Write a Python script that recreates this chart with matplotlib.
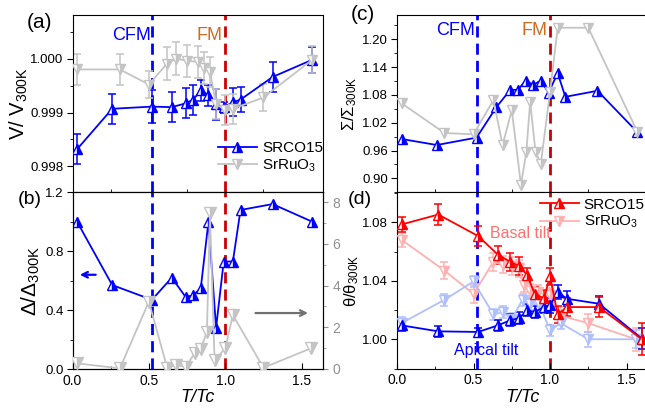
import numpy as np
import matplotlib
matplotlib.use('Agg')
import matplotlib.pyplot as plt
from matplotlib.ticker import MultipleLocator

plt.rcParams['font.family'] = ['Liberation Sans', 'DejaVu Sans']
plt.rcParams['mathtext.default'] = 'regular'

# ---- data ----
# SRCO15 temperatures (T/Tc), panels a-c
t_srco = [0.03, 0.26, 0.52, 0.65, 0.74, 0.79, 0.84, 0.89, 0.94, 0.99, 1.05, 1.10, 1.31, 1.57]

# (a) volume
v_srco = [0.99832, 0.99907, 0.99911, 0.99910, 0.99917, 0.99924, 0.99941, 0.99932,
          0.99915, 0.99910, 0.99919, 0.99924, 0.99966, 0.99998]
v_srco_err = [0.00028, 0.00028, 0.00030, 0.00028, 0.00028, 0.00028, 0.00020, 0.00020,
              0.00028, 0.00010, 0.00026, 0.00023, 0.00027, 0.00024]
t_sro_a = [0.03, 0.31, 0.50, 0.62, 0.68, 0.75, 0.82, 0.86, 0.90, 0.94, 1.00, 1.05, 1.25, 1.57]
v_sro = [0.99980, 0.99980, 0.99952, 0.99991, 1.00000, 0.99996, 0.99994, 0.99983,
         0.99975, 0.99916, 0.99904, 0.99907, 0.99928, 0.99998]
v_sro_err = [0.00028, 0.00028, 0.00025, 0.00030, 0.00030, 0.00030, 0.00030, 0.00030,
             0.00028, 0.00028, 0.00028, 0.00028, 0.00025, 0.00025]

# (b) distortion
d_srco = [1.00, 0.57, 0.47, 0.62, 0.49, 0.50, 0.55, 1.00, 0.28, 0.73, 0.73, 1.08, 1.12, 1.00]
t_sro_b = [0.03, 0.31, 0.50, 0.62, 0.68, 0.74, 0.80, 0.84, 0.88, 0.90, 0.93, 1.00, 1.05, 1.25, 1.56]
d_sro = [0.27, 0.03, 3.23, 0.06, 0.19, 0.11, 0.75, 0.96, 1.79, 7.47, 0.43, 0.99, 2.59, 0.06, 0.99]

# (c) sigma
s_srco = [0.985, 0.972, 0.988, 1.054, 1.091, 1.091, 1.111, 1.102, 1.111, 1.085,
          1.127, 1.076, 1.089, 1.000]
t_sro_c = [0.03, 0.31, 0.50, 0.63, 0.69, 0.75, 0.81, 0.845, 0.87, 0.905, 0.94, 1.00, 1.05, 1.25, 1.57]
s_sro = [1.062, 0.998, 0.995, 1.069, 0.972, 1.047, 0.886, 0.957, 1.065, 0.957, 0.932,
         1.087, 1.225, 1.225, 1.001]

# (d) octahedral tilts
t_srco_d = [0.03, 0.27, 0.53, 0.66, 0.74, 0.80, 0.85, 0.90, 0.96, 1.00, 1.05, 1.11, 1.32, 1.60]
basal_srco = [1.0785, 1.0853, 1.0706, 1.0578, 1.053, 1.050, 1.044, 1.031, 1.028, 1.043,
              1.017, 1.022, 1.022, 1.000]
basal_srco_err = [0.005, 0.007, 0.007, 0.006, 0.006, 0.006, 0.005, 0.005, 0.006, 0.006,
                  0.006, 0.006, 0.007, 0.011]
apical_srco = [1.0095, 1.0054, 1.0050, 1.0095, 1.013, 1.0145, 1.0198, 1.0186, 1.022,
               1.0232, 1.0323, 1.0277, 1.0243, 1.0004]
apical_srco_err = [0.004, 0.004, 0.003, 0.004, 0.004, 0.004, 0.004, 0.004, 0.004, 0.005,
                   0.005, 0.005, 0.005, 0.007]
t_sro_d = [0.03, 0.31, 0.50, 0.63, 0.69, 0.75, 0.80, 0.83, 0.87, 0.92, 1.00, 1.07, 1.25, 1.56]
basal_sro = [1.068, 1.047, 1.031, 1.053, 1.051, 1.050, 1.0485, 1.037, 1.033, 1.032,
             1.030, 1.016, 1.011, 1.000]
basal_sro_err = [0.005, 0.006, 0.006, 0.006, 0.006, 0.006, 0.006, 0.005, 0.005, 0.005,
                 0.005, 0.006, 0.006, 0.008]
t_sro_d2 = [0.03, 0.31, 0.50, 0.63, 0.69, 0.75, 0.82, 0.87, 0.93, 1.00, 1.07, 1.25, 1.56]
apical_sro = [1.011, 1.027, 1.0395, 1.017, 1.0185, 1.014, 1.027, 1.024, 1.024, 1.006,
              1.011, 1.000, 1.000]
apical_sro_err = [0.004, 0.004, 0.004, 0.004, 0.004, 0.004, 0.004, 0.004, 0.004, 0.004,
                  0.004, 0.005, 0.006]

t_cfm = 0.52
t_fm = 1.0

BLUE = '#0000FF'
GRAY = '#C4C4C4'
RED = '#FF0000'
PINK = '#FFB0B0'
LBLUE = '#B0C0FF'
DRED = '#CC0000'

W, H = 645, 409
fig = plt.figure(figsize=(W / 100, H / 100), dpi=100)


def box(l, r, t, b):
    return [l / W, 1 - b / H, (r - l) / W, (b - t) / H]


ax_a = fig.add_axes(box(72.5, 323, 15, 192.3))
ax_b = fig.add_axes(box(72.5, 323, 192.3, 369))
ax_c = fig.add_axes(box(397, 648, 15, 192.3))
ax_d = fig.add_axes(box(397, 648, 192.3, 368.5))


def series(ax, x, y, color, marker, err=None, ms=7.5, lw=1.3, label=None):
    if err is not None:
        ax.errorbar(x, y, yerr=err, fmt='none', ecolor=color,
                    elinewidth=1.1, capsize=3, capthick=1.1, zorder=2)
    ax.plot(x, y, color=color, lw=lw, marker=marker, ms=ms, fillstyle='right',
            markerfacecolor=color, markerfacecoloralt='white',
            markeredgecolor=color, markeredgewidth=1.0, label=label, zorder=3)


for ax in (ax_a, ax_b, ax_c, ax_d):
    ax.set_xlim(0, 1.64)
    ax.xaxis.set_major_locator(MultipleLocator(0.5))
    ax.xaxis.set_minor_locator(MultipleLocator(0.25))
    ax.tick_params(axis='x', which='both', direction='in', labelsize=10)
    ax.tick_params(axis='x', which='major', length=4)
    ax.tick_params(axis='x', which='minor', length=2.5)
    ax.tick_params(axis='y', which='both', direction='out', labelsize=9.5, pad=2.5)
    ax.tick_params(axis='y', which='major', length=4)
    ax.tick_params(axis='y', which='minor', length=2.5)
    ax.axvline(t_cfm, color=BLUE, lw=2, ls=(0, (4, 2.2)), zorder=1)
    ax.axvline(t_fm, color=DRED, lw=2, ls=(0, (4, 2.2)), zorder=1)

# (a)
series(ax_a, t_srco, v_srco, BLUE, '^', v_srco_err, label='SRCO15')
series(ax_a, t_sro_a, v_sro, GRAY, 'v', v_sro_err, label=r'SrRuO$_3$')
ax_a.set_ylim(0.99752, 1.00081)
ax_a.yaxis.set_major_locator(MultipleLocator(0.001))
ax_a.yaxis.set_minor_locator(MultipleLocator(0.0005))
ax_a.yaxis.set_major_formatter(matplotlib.ticker.FormatStrFormatter('%.3f'))
ax_a.tick_params(axis='x', labelbottom=False, direction='out')
ax_a.set_ylabel(r'V/ V$_{300K}$', fontsize=14.5)
ax_a.yaxis.set_label_coords(-0.168, 0.5)
ax_a.legend(loc='lower right', bbox_to_anchor=(1.03, 0.06), frameon=False,
            fontsize=11, handlelength=2.6, handletextpad=0.3, labelspacing=0.15,
            borderpad=0)
ax_a.text(0.512, 1.00043, 'CFM', color=BLUE, fontsize=13, ha='right', va='center')
ax_a.text(0.985, 1.00043, 'FM', color='#D2691E', fontsize=13, ha='right', va='center')

# (b)
series(ax_b, t_srco, d_srco, BLUE, '^')
ax_b.set_ylim(0, 1.2)
ax_b.yaxis.set_major_locator(MultipleLocator(0.4))
ax_b.yaxis.set_minor_locator(MultipleLocator(0.2))
ax_b.yaxis.set_major_formatter(matplotlib.ticker.FormatStrFormatter('%.1f'))
ax_b.set_ylabel(r'$\Delta$/$\Delta_{300K}$', fontsize=15)
ax_b.yaxis.set_label_coords(-0.12, 0.5)
ax_b.set_xlabel('T/Tc', fontsize=13, fontstyle='italic', labelpad=1)
ax_b2 = ax_b.twinx()
series(ax_b2, t_sro_b, d_sro, GRAY, 'v', ms=9)
ax_b2.set_ylim(0, 8.48)
ax_b2.yaxis.set_major_locator(MultipleLocator(2))
ax_b2.yaxis.set_minor_locator(MultipleLocator(1))
ax_b2.tick_params(axis='y', which='both', colors='#909090', labelsize=10, direction='out')
ax_b2.spines['right'].set_color('black')
ax_b.annotate('', xy=(0.03, 0.64), xytext=(0.17, 0.64),
              arrowprops=dict(arrowstyle='->', color=BLUE, lw=1.6))
ax_b.annotate('', xy=(1.56, 0.38), xytext=(1.18, 0.38),
              arrowprops=dict(arrowstyle='->', color='#707070', lw=1.6))

# (c)
series(ax_c, t_srco, s_srco, BLUE, '^')
series(ax_c, t_sro_c, s_sro, GRAY, 'v')
ax_c.set_ylim(0.87, 1.2525)
ax_c.yaxis.set_major_locator(MultipleLocator(0.06))
ax_c.yaxis.set_minor_locator(MultipleLocator(0.03))
ax_c.yaxis.set_major_formatter(matplotlib.ticker.FormatStrFormatter('%.2f'))
ax_c.tick_params(axis='x', labelbottom=False, direction='out')
ax_c.set_ylabel(r'$\Sigma$/$\Sigma_{300K}$', fontsize=12)
ax_c.yaxis.set_label_coords(-0.15, 0.5)
ax_c.text(0.512, 1.2195, 'CFM', color=BLUE, fontsize=13, ha='right', va='center')
ax_c.text(0.985, 1.2195, 'FM', color='#D2691E', fontsize=13, ha='right', va='center')

# (d)
series(ax_d, t_sro_d, basal_sro, PINK, 'v', basal_sro_err, label=r'SrRuO$_3$')
series(ax_d, t_sro_d2, apical_sro, LBLUE, 'v', apical_sro_err)
series(ax_d, t_srco_d, apical_srco, BLUE, '^', apical_srco_err)
series(ax_d, t_srco_d, basal_srco, RED, '^', basal_srco_err, label='SRCO15')
ax_d.set_ylim(0.98, 1.1005)
ax_d.yaxis.set_major_locator(MultipleLocator(0.04))
ax_d.yaxis.set_minor_locator(MultipleLocator(0.02))
ax_d.yaxis.set_major_formatter(matplotlib.ticker.FormatStrFormatter('%.2f'))
ax_d.set_ylabel(r'$\theta$/$\theta_{300K}$', fontsize=12)
ax_d.yaxis.set_label_coords(-0.145, 0.5)
ax_d.set_xlabel('T/Tc', fontsize=13, fontstyle='italic', labelpad=1)
h, l = ax_d.get_legend_handles_labels()
ax_d.legend(h[::-1], l[::-1], loc='upper right', bbox_to_anchor=(1.03, 1.03), frameon=False,
            fontsize=11, handlelength=2.6, handletextpad=0.3, labelspacing=0.15,
            borderpad=0.2)
ax_d.text(0.806, 1.0725, 'Basal tilt', color='#FF7070', fontsize=11.5, ha='center', va='center')
ax_d.text(0.58, 0.9925, 'Apical tilt', color=BLUE, fontsize=11.5, ha='center', va='center')

fig.text(40 / W, 1 - 22 / H, '(a)', fontsize=15, ha='center', va='center')
fig.text(30 / W, 1 - 200 / H, '(b)', fontsize=14, ha='center', va='center')
fig.text(363 / W, 1 - 15 / H, '(c)', fontsize=15, ha='center', va='center')
fig.text(360 / W, 1 - 200 / H, '(d)', fontsize=14, ha='center', va='center')

fig.savefig('out.png', dpi=100)
